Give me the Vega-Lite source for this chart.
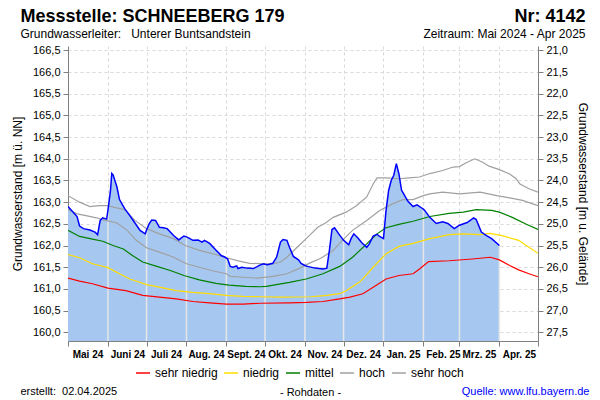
{
"$schema": "https://vega.github.io/schema/vega-lite/v6.json",
"width": 470, "height": 295,
"autosize": {"type": "none"},
"padding": {"left": 68, "top": 46, "right": 62, "bottom": 59},
"background": "white",
"config": {"font": "Liberation Sans", "view": {"stroke": null}, "axis": {"labelColor": "#000000", "titleColor": "#000000", "labelFont": "Liberation Sans", "titleFont": "Liberation Sans"}, "legend": {"labelFont": "Liberation Sans"}},
"datasets": {
"pegel": [
{"date":"2024-05-01","wert":162.90},{"date":"2024-05-05","wert":162.77},{"date":"2024-05-08","wert":162.67},{"date":"2024-05-10","wert":162.45},{"date":"2024-05-13","wert":162.39},{"date":"2024-05-18","wert":162.36},{"date":"2024-05-22","wert":162.31},{"date":"2024-05-24","wert":162.25},{"date":"2024-05-26","wert":162.58},{"date":"2024-05-28","wert":162.64},{"date":"2024-05-31","wert":162.61},
{"date":"2024-06-01","wert":162.81},{"date":"2024-06-03","wert":163.27},{"date":"2024-06-04","wert":163.66},{"date":"2024-06-05","wert":163.63},{"date":"2024-06-08","wert":163.35},{"date":"2024-06-10","wert":163.06},{"date":"2024-06-14","wert":162.85},{"date":"2024-06-18","wert":162.69},{"date":"2024-06-22","wert":162.52},{"date":"2024-06-26","wert":162.35},{"date":"2024-06-30","wert":162.27},
{"date":"2024-07-01","wert":162.36},{"date":"2024-07-03","wert":162.50},{"date":"2024-07-05","wert":162.59},{"date":"2024-07-08","wert":162.58},{"date":"2024-07-11","wert":162.42},{"date":"2024-07-14","wert":162.41},{"date":"2024-07-17","wert":162.39},{"date":"2024-07-22","wert":162.23},{"date":"2024-07-26","wert":162.13},{"date":"2024-07-30","wert":162.22},
{"date":"2024-08-01","wert":162.20},{"date":"2024-08-03","wert":162.17},{"date":"2024-08-06","wert":162.12},{"date":"2024-08-10","wert":162.13},{"date":"2024-08-13","wert":162.08},{"date":"2024-08-15","wert":162.12},{"date":"2024-08-19","wert":162.05},{"date":"2024-08-24","wert":161.89},{"date":"2024-08-28","wert":161.77},{"date":"2024-08-31","wert":161.73},
{"date":"2024-09-01","wert":161.71},{"date":"2024-09-02","wert":161.69},{"date":"2024-09-04","wert":161.52},{"date":"2024-09-06","wert":161.50},{"date":"2024-09-09","wert":161.53},{"date":"2024-09-10","wert":161.47},{"date":"2024-09-13","wert":161.50},{"date":"2024-09-17","wert":161.48},{"date":"2024-09-22","wert":161.47},{"date":"2024-09-27","wert":161.55},{"date":"2024-09-30","wert":161.58},
{"date":"2024-10-01","wert":161.57},{"date":"2024-10-03","wert":161.56},{"date":"2024-10-07","wert":161.59},{"date":"2024-10-10","wert":161.73},{"date":"2024-10-13","wert":162.08},{"date":"2024-10-15","wert":162.14},{"date":"2024-10-18","wert":162.12},{"date":"2024-10-20","wert":161.96},{"date":"2024-10-23","wert":161.75},{"date":"2024-10-27","wert":161.67},{"date":"2024-10-29","wert":161.59},
{"date":"2024-11-01","wert":161.54},{"date":"2024-11-03","wert":161.52},{"date":"2024-11-09","wert":161.48},{"date":"2024-11-15","wert":161.46},{"date":"2024-11-18","wert":161.48},{"date":"2024-11-20","wert":161.89},{"date":"2024-11-22","wert":162.37},{"date":"2024-11-24","wert":162.41},{"date":"2024-11-27","wert":162.28},
{"date":"2024-12-01","wert":162.12},{"date":"2024-12-05","wert":162.02},{"date":"2024-12-07","wert":162.17},{"date":"2024-12-09","wert":162.27},{"date":"2024-12-12","wert":162.18},{"date":"2024-12-15","wert":162.07},{"date":"2024-12-19","wert":161.96},{"date":"2024-12-21","wert":162.04},{"date":"2024-12-24","wert":162.22},{"date":"2024-12-27","wert":162.26},{"date":"2024-12-29","wert":162.21},
{"date":"2025-01-01","wert":162.16},{"date":"2025-01-03","wert":162.81},{"date":"2025-01-05","wert":163.27},{"date":"2025-01-07","wert":163.50},{"date":"2025-01-09","wert":163.62},{"date":"2025-01-11","wert":163.89},{"date":"2025-01-13","wert":163.65},{"date":"2025-01-15","wert":163.28},{"date":"2025-01-18","wert":163.12},{"date":"2025-01-20","wert":163.02},{"date":"2025-01-24","wert":162.90},{"date":"2025-01-27","wert":162.94},{"date":"2025-01-31","wert":162.86},
{"date":"2025-02-01","wert":162.84},{"date":"2025-02-02","wert":162.81},{"date":"2025-02-06","wert":162.65},{"date":"2025-02-11","wert":162.51},{"date":"2025-02-16","wert":162.55},{"date":"2025-02-20","wert":162.51},{"date":"2025-02-25","wert":162.39},
{"date":"2025-03-01","wert":162.47},{"date":"2025-03-07","wert":162.53},{"date":"2025-03-12","wert":162.64},{"date":"2025-03-14","wert":162.60},{"date":"2025-03-18","wert":162.31},{"date":"2025-03-22","wert":162.23},{"date":"2025-03-26","wert":162.16},{"date":"2025-04-01","wert":162.00}
],
"ref": [
{"date":"2024-05-01","klasse":"sehr hoch","wert":163.15},{"date":"2024-05-10","klasse":"sehr hoch","wert":163.00},{"date":"2024-05-18","klasse":"sehr hoch","wert":162.90},{"date":"2024-05-25","klasse":"sehr hoch","wert":162.92},{"date":"2024-06-01","klasse":"sehr hoch","wert":162.92},{"date":"2024-06-06","klasse":"sehr hoch","wert":162.88},{"date":"2024-06-14","klasse":"sehr hoch","wert":162.83},{"date":"2024-06-22","klasse":"sehr hoch","wert":162.58},{"date":"2024-07-01","klasse":"sehr hoch","wert":162.39},{"date":"2024-07-11","klasse":"sehr hoch","wert":162.27},{"date":"2024-07-22","klasse":"sehr hoch","wert":162.16},{"date":"2024-07-31","klasse":"sehr hoch","wert":162.00},{"date":"2024-08-11","klasse":"sehr hoch","wert":161.89},{"date":"2024-08-24","klasse":"sehr hoch","wert":161.79},{"date":"2024-09-01","klasse":"sehr hoch","wert":161.72},{"date":"2024-09-11","klasse":"sehr hoch","wert":161.64},{"date":"2024-09-19","klasse":"sehr hoch","wert":161.59},{"date":"2024-10-01","klasse":"sehr hoch","wert":161.58},{"date":"2024-10-07","klasse":"sehr hoch","wert":161.58},{"date":"2024-10-13","klasse":"sehr hoch","wert":161.62},{"date":"2024-10-18","klasse":"sehr hoch","wert":161.73},{"date":"2024-10-26","klasse":"sehr hoch","wert":161.96},{"date":"2024-11-03","klasse":"sehr hoch","wert":162.19},{"date":"2024-11-11","klasse":"sehr hoch","wert":162.42},{"date":"2024-11-17","klasse":"sehr hoch","wert":162.52},{"date":"2024-11-23","klasse":"sehr hoch","wert":162.65},{"date":"2024-12-03","klasse":"sehr hoch","wert":162.77},{"date":"2024-12-11","klasse":"sehr hoch","wert":162.92},{"date":"2024-12-19","klasse":"sehr hoch","wert":163.12},{"date":"2024-12-24","klasse":"sehr hoch","wert":163.42},{"date":"2024-12-27","klasse":"sehr hoch","wert":163.56},{"date":"2025-01-03","klasse":"sehr hoch","wert":163.56},{"date":"2025-01-13","klasse":"sehr hoch","wert":163.54},{"date":"2025-01-21","klasse":"sehr hoch","wert":163.56},{"date":"2025-01-29","klasse":"sehr hoch","wert":163.58},{"date":"2025-02-06","klasse":"sehr hoch","wert":163.66},{"date":"2025-02-16","klasse":"sehr hoch","wert":163.73},{"date":"2025-02-24","klasse":"sehr hoch","wert":163.81},{"date":"2025-03-01","klasse":"sehr hoch","wert":163.82},{"date":"2025-03-07","klasse":"sehr hoch","wert":163.92},{"date":"2025-03-13","klasse":"sehr hoch","wert":164.00},{"date":"2025-03-19","klasse":"sehr hoch","wert":163.92},{"date":"2025-03-24","klasse":"sehr hoch","wert":163.83},{"date":"2025-04-01","klasse":"sehr hoch","wert":163.75},{"date":"2025-04-09","klasse":"sehr hoch","wert":163.65},{"date":"2025-04-14","klasse":"sehr hoch","wert":163.54},{"date":"2025-04-17","klasse":"sehr hoch","wert":163.42},{"date":"2025-04-24","klasse":"sehr hoch","wert":163.31},{"date":"2025-05-01","klasse":"sehr hoch","wert":163.23},
{"date":"2024-05-01","klasse":"hoch","wert":162.83},{"date":"2024-05-08","klasse":"hoch","wert":162.73},{"date":"2024-05-15","klasse":"hoch","wert":162.69},{"date":"2024-05-23","klasse":"hoch","wert":162.64},{"date":"2024-05-30","klasse":"hoch","wert":162.58},{"date":"2024-06-08","klasse":"hoch","wert":162.52},{"date":"2024-06-16","klasse":"hoch","wert":162.35},{"date":"2024-06-23","klasse":"hoch","wert":162.12},{"date":"2024-07-01","klasse":"hoch","wert":161.95},{"date":"2024-07-11","klasse":"hoch","wert":161.85},{"date":"2024-07-22","klasse":"hoch","wert":161.73},{"date":"2024-08-01","klasse":"hoch","wert":161.58},{"date":"2024-08-11","klasse":"hoch","wert":161.50},{"date":"2024-08-21","klasse":"hoch","wert":161.42},{"date":"2024-09-01","klasse":"hoch","wert":161.35},{"date":"2024-09-04","klasse":"hoch","wert":161.29},{"date":"2024-09-14","klasse":"hoch","wert":161.27},{"date":"2024-09-25","klasse":"hoch","wert":161.25},{"date":"2024-10-07","klasse":"hoch","wert":161.29},{"date":"2024-10-18","klasse":"hoch","wert":161.35},{"date":"2024-10-28","klasse":"hoch","wert":161.48},{"date":"2024-11-05","klasse":"hoch","wert":161.60},{"date":"2024-11-13","klasse":"hoch","wert":161.70},{"date":"2024-11-23","klasse":"hoch","wert":161.89},{"date":"2024-11-30","klasse":"hoch","wert":162.12},{"date":"2024-12-08","klasse":"hoch","wert":162.35},{"date":"2024-12-19","klasse":"hoch","wert":162.58},{"date":"2024-12-29","klasse":"hoch","wert":162.81},{"date":"2025-01-08","klasse":"hoch","wert":162.96},{"date":"2025-01-16","klasse":"hoch","wert":163.06},{"date":"2025-01-24","klasse":"hoch","wert":163.06},{"date":"2025-02-01","klasse":"hoch","wert":163.15},{"date":"2025-02-06","klasse":"hoch","wert":163.19},{"date":"2025-02-16","klasse":"hoch","wert":163.23},{"date":"2025-03-01","klasse":"hoch","wert":163.19},{"date":"2025-03-17","klasse":"hoch","wert":163.23},{"date":"2025-03-30","klasse":"hoch","wert":163.15},{"date":"2025-04-09","klasse":"hoch","wert":163.10},{"date":"2025-04-19","klasse":"hoch","wert":163.04},{"date":"2025-05-01","klasse":"hoch","wert":162.92},
{"date":"2024-05-01","klasse":"mittel","wert":162.35},{"date":"2024-05-10","klasse":"mittel","wert":162.21},{"date":"2024-05-20","klasse":"mittel","wert":162.15},{"date":"2024-05-28","klasse":"mittel","wert":162.10},{"date":"2024-06-05","klasse":"mittel","wert":162.00},{"date":"2024-06-13","klasse":"mittel","wert":161.92},{"date":"2024-06-20","klasse":"mittel","wert":161.77},{"date":"2024-06-28","klasse":"mittel","wert":161.62},{"date":"2024-07-09","klasse":"mittel","wert":161.52},{"date":"2024-07-20","klasse":"mittel","wert":161.42},{"date":"2024-07-30","klasse":"mittel","wert":161.31},{"date":"2024-08-11","klasse":"mittel","wert":161.21},{"date":"2024-08-24","klasse":"mittel","wert":161.13},{"date":"2024-09-03","klasse":"mittel","wert":161.09},{"date":"2024-09-16","klasse":"mittel","wert":161.06},{"date":"2024-09-27","klasse":"mittel","wert":161.05},{"date":"2024-10-02","klasse":"mittel","wert":161.06},{"date":"2024-10-20","klasse":"mittel","wert":161.15},{"date":"2024-11-02","klasse":"mittel","wert":161.23},{"date":"2024-11-15","klasse":"mittel","wert":161.35},{"date":"2024-11-28","klasse":"mittel","wert":161.52},{"date":"2024-12-08","klasse":"mittel","wert":161.73},{"date":"2024-12-19","klasse":"mittel","wert":162.04},{"date":"2024-12-27","klasse":"mittel","wert":162.27},{"date":"2025-01-03","klasse":"mittel","wert":162.41},{"date":"2025-01-13","klasse":"mittel","wert":162.49},{"date":"2025-01-24","klasse":"mittel","wert":162.56},{"date":"2025-02-06","klasse":"mittel","wert":162.67},{"date":"2025-02-21","klasse":"mittel","wert":162.74},{"date":"2025-03-04","klasse":"mittel","wert":162.77},{"date":"2025-03-14","klasse":"mittel","wert":162.83},{"date":"2025-03-26","klasse":"mittel","wert":162.81},{"date":"2025-04-01","klasse":"mittel","wert":162.77},{"date":"2025-04-11","klasse":"mittel","wert":162.65},{"date":"2025-04-22","klasse":"mittel","wert":162.49},{"date":"2025-05-01","klasse":"mittel","wert":162.37},
{"date":"2024-05-01","klasse":"niedrig","wert":161.79},{"date":"2024-05-10","klasse":"niedrig","wert":161.72},{"date":"2024-05-20","klasse":"niedrig","wert":161.58},{"date":"2024-06-01","klasse":"niedrig","wert":161.49},{"date":"2024-06-10","klasse":"niedrig","wert":161.35},{"date":"2024-06-18","klasse":"niedrig","wert":161.23},{"date":"2024-07-01","klasse":"niedrig","wert":161.10},{"date":"2024-07-11","klasse":"niedrig","wert":161.04},{"date":"2024-07-24","klasse":"niedrig","wert":160.96},{"date":"2024-08-06","klasse":"niedrig","wert":160.92},{"date":"2024-08-19","klasse":"niedrig","wert":160.89},{"date":"2024-09-01","klasse":"niedrig","wert":160.85},{"date":"2024-09-14","klasse":"niedrig","wert":160.83},{"date":"2024-09-27","klasse":"niedrig","wert":160.82},{"date":"2024-10-13","klasse":"niedrig","wert":160.81},{"date":"2024-11-06","klasse":"niedrig","wert":160.82},{"date":"2024-11-18","klasse":"niedrig","wert":160.85},{"date":"2024-11-28","klasse":"niedrig","wert":160.89},{"date":"2024-12-03","klasse":"niedrig","wert":160.96},{"date":"2024-12-14","klasse":"niedrig","wert":161.17},{"date":"2024-12-24","klasse":"niedrig","wert":161.50},{"date":"2025-01-03","klasse":"niedrig","wert":161.81},{"date":"2025-01-13","klasse":"niedrig","wert":161.98},{"date":"2025-01-24","klasse":"niedrig","wert":162.05},{"date":"2025-02-06","klasse":"niedrig","wert":162.16},{"date":"2025-02-21","klasse":"niedrig","wert":162.25},{"date":"2025-03-04","klasse":"niedrig","wert":162.27},{"date":"2025-03-17","klasse":"niedrig","wert":162.25},{"date":"2025-03-25","klasse":"niedrig","wert":162.28},{"date":"2025-04-03","klasse":"niedrig","wert":162.23},{"date":"2025-04-16","klasse":"niedrig","wert":162.12},{"date":"2025-04-24","klasse":"niedrig","wert":161.96},{"date":"2025-05-01","klasse":"niedrig","wert":161.82},
{"date":"2024-05-01","klasse":"sehr niedrig","wert":161.25},{"date":"2024-05-10","klasse":"sehr niedrig","wert":161.18},{"date":"2024-05-20","klasse":"sehr niedrig","wert":161.12},{"date":"2024-06-01","klasse":"sehr niedrig","wert":161.02},{"date":"2024-06-15","klasse":"sehr niedrig","wert":160.96},{"date":"2024-06-28","klasse":"sehr niedrig","wert":160.85},{"date":"2024-07-11","klasse":"sehr niedrig","wert":160.81},{"date":"2024-07-24","klasse":"sehr niedrig","wert":160.77},{"date":"2024-08-06","klasse":"sehr niedrig","wert":160.71},{"date":"2024-08-19","klasse":"sehr niedrig","wert":160.68},{"date":"2024-09-01","klasse":"sehr niedrig","wert":160.65},{"date":"2024-09-14","klasse":"sehr niedrig","wert":160.65},{"date":"2024-09-27","klasse":"sehr niedrig","wert":160.67},{"date":"2024-10-20","klasse":"sehr niedrig","wert":160.68},{"date":"2024-11-02","klasse":"sehr niedrig","wert":160.69},{"date":"2024-11-15","klasse":"sehr niedrig","wert":160.71},{"date":"2024-11-28","klasse":"sehr niedrig","wert":160.77},{"date":"2024-12-06","klasse":"sehr niedrig","wert":160.81},{"date":"2024-12-16","klasse":"sehr niedrig","wert":160.89},{"date":"2024-12-24","klasse":"sehr niedrig","wert":161.04},{"date":"2025-01-03","klasse":"sehr niedrig","wert":161.23},{"date":"2025-01-13","klasse":"sehr niedrig","wert":161.31},{"date":"2025-01-24","klasse":"sehr niedrig","wert":161.35},{"date":"2025-01-29","klasse":"sehr niedrig","wert":161.46},{"date":"2025-02-05","klasse":"sehr niedrig","wert":161.63},{"date":"2025-02-21","klasse":"sehr niedrig","wert":161.65},{"date":"2025-03-11","klasse":"sehr niedrig","wert":161.69},{"date":"2025-03-25","klasse":"sehr niedrig","wert":161.73},{"date":"2025-04-01","klasse":"sehr niedrig","wert":161.67},{"date":"2025-04-09","klasse":"sehr niedrig","wert":161.54},{"date":"2025-04-16","klasse":"sehr niedrig","wert":161.44},{"date":"2025-04-24","klasse":"sehr niedrig","wert":161.35},{"date":"2025-05-01","klasse":"sehr niedrig","wert":161.28}
]
},
"layer": [
{
"data": {"name": "pegel"},
"mark": {"type": "area", "color": "#a6c8f0", "clip": true},
"encoding": {
"x": {"field": "date", "type": "temporal",
"scale": {"domain": [{"year": 2024, "month": 5, "date": 1, "utc": true}, {"year": 2025, "month": 5, "date": 1, "utc": true}]},
"axis": {"orient": "bottom", "title": null,
"values": [{"year":2024,"month":5,"date":1,"utc":true},{"year":2024,"month":6,"date":1,"utc":true},{"year":2024,"month":7,"date":1,"utc":true},{"year":2024,"month":8,"date":1,"utc":true},{"year":2024,"month":9,"date":1,"utc":true},{"year":2024,"month":10,"date":1,"utc":true},{"year":2024,"month":11,"date":1,"utc":true},{"year":2024,"month":12,"date":1,"utc":true},{"year":2025,"month":1,"date":1,"utc":true},{"year":2025,"month":2,"date":1,"utc":true},{"year":2025,"month":3,"date":1,"utc":true},{"year":2025,"month":4,"date":1,"utc":true},{"year":2025,"month":5,"date":1,"utc":true}],
"labelExpr": "(utcyear(datum.value) == 2025 && utcmonth(datum.value) == 4) ? '' : ['Jan.','Feb.','Mrz.','Apr.','Mai','Juni','Juli','Aug.','Sept.','Okt.','Nov.','Dez.'][utcmonth(datum.value)] + ' ' + (utcyear(datum.value) - 2000)",
"labelOffset": 19.5, "labelAlign": "center", "labelOverlap": false, "labelBound": false, "labelFlush": false,
"labelFontSize": 10, "labelFontWeight": "bold", "labelPadding": 3,
"tickSize": 5, "tickColor": "#808080", "domainColor": "#808080",
"grid": true, "gridDash": [3, 3], "gridColor": "#d9d9d9"}},
"y": {"field": "wert", "type": "quantitative",
"scale": {"domain": [159.8, 166.6], "zero": false, "nice": false},
"axis": {"orient": "left", "title": "Grundwasserstand [m ü. NN]",
"values": [160, 160.5, 161, 161.5, 162, 162.5, 163, 163.5, 164, 164.5, 165, 165.5, 166, 166.5],
"labelExpr": "replace(format(datum.value, '.1f'), '.', ',')",
"labelFontSize": 11, "labelPadding": 3, "tickSize": 5, "tickColor": "#808080", "domainColor": "#808080",
"grid": true, "gridDash": [3, 3], "gridColor": "#d9d9d9",
"titleFontSize": 12, "titleFontWeight": "normal", "titlePadding": 8}}
}
},
{
"data": {"name": "pegel"},
"transform": [{"filter": "utcdate(datum.date) == 1 && time(datum.date) > 1714600000000"}],
"mark": {"type": "rule", "color": "#e6e6e6", "strokeWidth": 1.5},
"encoding": {
"x": {"field": "date", "type": "temporal",
"axis": {"orient": "top", "title": "Nr: 4142", "labels": false, "ticks": false, "domain": false, "grid": false,
"titleX": 517, "titleY": -25, "titleAlign": "right", "titleBaseline": "alphabetic", "titleFontSize": 18, "titleFontWeight": "bold"}},
"y": {"field": "wert", "type": "quantitative", "axis": null},
"y2": {"datum": 159.8}
}
},
{
"data": {"name": "ref"},
"mark": {"type": "line", "strokeWidth": 1.2, "clip": true},
"encoding": {
"x": {"field": "date", "type": "temporal",
"axis": {"orient": "top", "grid": false, "ticks": false, "domain": false, "tickSize": 0,
"values": [{"year":2024,"month":5,"date":1,"utc":true},{"year":2025,"month":5,"date":1,"utc":true}],
"labelExpr": "datum.value < 1735689600000 ? 'Grundwasserleiter:\u00a0\u00a0\u00a0Unterer Buntsandstein' : 'Zeitraum: Mai 2024 - Apr 2025'",
"labelAlign": {"condition": {"test": "datum.value < 1735689600000", "value": "left"}, "value": "right"},
"labelOffset": {"condition": {"test": "datum.value < 1735689600000", "value": -48}, "value": 47},
"labelOverlap": false, "labelBound": false, "labelFlush": false, "labelLimit": 0,
"labelFontSize": 12, "labelPadding": 6,
"title": "Messstelle: SCHNEEBERG 179", "titleX": -48, "titleY": -25, "titleAlign": "left", "titleBaseline": "alphabetic", "titleFontSize": 18, "titleFontWeight": "bold", "titleLimit": 0}},
"y": {"field": "wert", "type": "quantitative",
"axis": {"orient": "right", "title": "Grundwasserstand [m u. Gelände]",
"values": [160, 160.5, 161, 161.5, 162, 162.5, 163, 163.5, 164, 164.5, 165, 165.5, 166, 166.5],
"labelExpr": "replace(format(187.5 - datum.value, '.1f'), '.', ',')",
"labelFontSize": 11, "labelPadding": 3, "tickSize": 5, "tickColor": "#808080", "domainColor": "#808080", "grid": false,
"titleFontSize": 12, "titleFontWeight": "normal", "titlePadding": 8}},
"color": {"field": "klasse", "type": "nominal",
"scale": {"domain": ["sehr niedrig", "niedrig", "mittel", "hoch", "sehr hoch"], "range": ["#ff0000", "#ffdd00", "#008000", "#a0a0a0", "#a0a0a0"]},
"legend": {"orient": "none", "direction": "horizontal", "legendX": 67, "legendY": 319, "title": null,
"symbolType": "stroke", "symbolSize": 196, "symbolStrokeWidth": 1.5, "labelFontSize": 12, "labelOffset": 4, "columnPadding": 3, "padding": 0}}
}
},
{
"data": {"name": "pegel"},
"mark": {"type": "line", "color": "#0000ff", "strokeWidth": 1.5, "clip": true},
"encoding": {
"x": {"field": "date", "type": "temporal",
"axis": {"orient": "bottom", "grid": false, "ticks": false, "domain": false, "tickSize": 0,
"values": [{"year":2024,"month":5,"date":1,"utc":true},{"year":2025,"month":5,"date":1,"utc":true}],
"labelExpr": "datum.value < 1735689600000 ? 'erstellt:\u00a0\u00a002.04.2025' : 'Quelle: www.lfu.bayern.de'",
"labelAlign": {"condition": {"test": "datum.value < 1735689600000", "value": "left"}, "value": "right"},
"labelOffset": {"condition": {"test": "datum.value < 1735689600000", "value": -48}, "value": 51},
"labelColor": {"condition": {"test": "datum.value < 1735689600000", "value": "#000000"}, "value": "#0000ff"},
"labelOverlap": false, "labelBound": false, "labelFlush": false, "labelLimit": 0,
"labelFontSize": 11, "labelPadding": 44,
"title": "- Rohdaten -", "titleX": 242, "titleY": 54, "titleAlign": "center", "titleBaseline": "alphabetic", "titleFontSize": 11, "titleFontWeight": "normal"}},
"y": {"field": "wert", "type": "quantitative", "axis": null}
}
}
],
"resolve": {"axis": {"x": "independent", "y": "independent"}}
}
